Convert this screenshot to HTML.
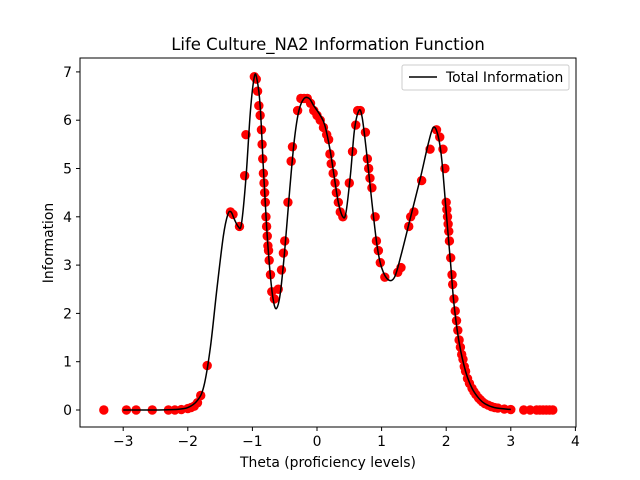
<!DOCTYPE html>
<html><head><meta charset="utf-8"><style>
body{margin:0;background:#fff}
svg{display:block;font-family:"DejaVu Sans","Liberation Sans",sans-serif}
</style></head><body>
<svg id="c" width="640" height="480">
<rect width="640" height="480" fill="#fff"/>
<text x="328" y="50" font-size="16.5" text-anchor="middle">Life Culture_NA2 Information Function</text>
<g id="marks"></g>
<rect x="80" y="58" width="496" height="369" fill="none" stroke="#000" stroke-width="1"/>
<g id="axes"></g>
<text x="328" y="467" font-size="13.9" text-anchor="middle">Theta (proficiency levels)</text>
<text x="0" y="0" font-size="13.9" text-anchor="middle" transform="translate(53,243) rotate(-90)">Information</text>
<g>
<rect x="402" y="65" width="167" height="25" fill="#fff" stroke="#ccc" rx="2"/>
<line x1="409" y1="77" x2="437" y2="77" stroke="#000" stroke-width="1.5"/>
<text x="446" y="82" font-size="13.9">Total Information</text>
</g>
</svg>
<script>
const curveTheta=[-3,-2.5,-2.2,-2,-1.85,-1.75,-1.65,-1.55,-1.45,-1.38,-1.33,-1.28,-1.22,-1.17,-1.1,-1.03,-0.97,-0.93,-0.88,-0.83,-0.78,-0.73,-0.68,-0.63,-0.57,-0.5,-0.42,-0.35,-0.28,-0.2,-0.12,-0.05,0.05,0.12,0.2,0.27,0.33,0.4,0.45,0.52,0.58,0.65,0.7,0.77,0.85,0.93,1.0,1.1,1.2,1.3,1.45,1.6,1.72,1.8,1.87,1.93,2.0,2.07,2.12,2.2,2.3,2.4,2.5,2.6,2.75,3];
const curveInfo=[0,0,0.01,0.05,0.2,0.5,1.3,2.5,3.6,4.05,4.1,3.95,3.8,3.85,4.8,6.2,6.9,6.85,6.3,5.0,3.8,2.9,2.3,2.1,2.4,3.3,4.6,5.6,6.2,6.45,6.45,6.3,6.1,5.9,5.4,4.8,4.3,4.0,4.1,4.9,5.8,6.2,6.05,5.3,4.3,3.4,2.95,2.7,2.75,3.2,4.0,4.8,5.5,5.85,5.7,5.2,4.1,3.0,2.2,1.4,0.8,0.45,0.25,0.13,0.05,0.01];
const ptTheta=[-3.3,-2.95,-2.8,-2.55,-2.3,-2.2,-2.1,-2.0,-1.95,-1.9,-1.85,-1.8,-1.7,-1.34,-1.3,-1.2,-1.12,-1.1,-0.97,-0.94,-0.92,-0.9,-0.88,-0.86,-0.85,-0.84,-0.83,-0.82,-0.81,-0.8,-0.79,-0.78,-0.77,-0.76,-0.75,-0.74,-0.72,-0.7,-0.66,-0.6,-0.55,-0.52,-0.5,-0.45,-0.4,-0.38,-0.3,-0.25,-0.2,-0.15,-0.1,-0.05,0.0,0.05,0.1,0.15,0.18,0.2,0.22,0.25,0.28,0.3,0.33,0.36,0.4,0.5,0.55,0.6,0.63,0.67,0.75,0.78,0.8,0.82,0.85,0.9,0.92,0.95,0.98,1.05,1.25,1.3,1.42,1.45,1.5,1.62,1.75,1.85,1.9,1.95,1.98,2.0,2.01,2.02,2.03,2.04,2.05,2.07,2.09,2.1,2.12,2.14,2.16,2.18,2.2,2.22,2.24,2.26,2.28,2.3,2.33,2.36,2.4,2.43,2.46,2.5,2.53,2.56,2.6,2.65,2.7,2.75,2.8,2.9,3.0,3.2,3.3,3.4,3.45,3.5,3.55,3.6,3.65];
const ptInfo=[0,0,0,0,0,0,0.01,0.03,0.05,0.08,0.15,0.3,0.92,4.1,4.05,3.8,4.85,5.7,6.9,6.85,6.6,6.3,6.1,5.8,5.5,5.2,4.9,4.7,4.5,4.3,4.0,3.8,3.6,3.4,3.3,3.1,2.8,2.45,2.3,2.5,2.9,3.25,3.5,4.3,5.15,5.45,6.2,6.45,6.45,6.45,6.35,6.2,6.1,6.0,5.85,5.7,5.6,5.3,5.1,4.9,4.7,4.5,4.3,4.1,4.0,4.7,5.35,5.9,6.2,6.2,5.75,5.2,5.0,4.8,4.6,4.0,3.5,3.3,3.05,2.75,2.85,2.95,3.8,4.0,4.1,4.75,5.4,5.8,5.65,5.4,5.0,4.3,4.15,4.0,3.85,3.7,3.5,3.15,2.8,2.6,2.3,2.05,1.85,1.65,1.45,1.3,1.15,1.05,0.9,0.8,0.65,0.55,0.45,0.38,0.32,0.25,0.21,0.17,0.13,0.1,0.07,0.05,0.04,0.02,0.01,0,0,0,0,0,0,0,0];
const xs=t=>317+t*64.6, ys=v=>410-v*48.3;
const NS='http://www.w3.org/2000/svg';
const marks=document.getElementById('marks'), axes=document.getElementById('axes');
for(let i=0;i<ptTheta.length;i++){
  const c=document.createElementNS(NS,'circle');
  c.setAttribute('cx',xs(ptTheta[i]));c.setAttribute('cy',ys(ptInfo[i]));c.setAttribute('r',4.7);c.setAttribute('fill','#ff0000');
  
  
  marks.appendChild(c);
}
let d='M'+xs(curveTheta[0])+','+ys(curveInfo[0]);
const P=curveTheta.map((t,i)=>[xs(t),ys(curveInfo[i])]);
for(let i=0;i<P.length-1;i++){
  const p0=P[Math.max(0,i-1)],p1=P[i],p2=P[i+1],p3=P[Math.min(P.length-1,i+2)];
  const c1=[p1[0]+(p2[0]-p0[0])/6,p1[1]+(p2[1]-p0[1])/6],c2=[p2[0]-(p3[0]-p1[0])/6,p2[1]-(p3[1]-p1[1])/6];
  d+=`C${c1[0]},${c1[1]} ${c2[0]},${c2[1]} ${p2[0]},${p2[1]}`;
}
const path=document.createElementNS(NS,'path');
path.setAttribute('d',d);path.setAttribute('fill','none');path.setAttribute('stroke','#000');path.setAttribute('stroke-width','1.5');


marks.appendChild(path);
const xTicks=[-3,-2,-1,0,1,2,3,4], yTicks=[0,1,2,3,4,5,6,7];
xTicks.forEach(t=>{
  const l=document.createElementNS(NS,'line');l.setAttribute('x1',xs(t));l.setAttribute('x2',xs(t));l.setAttribute('y1',427);l.setAttribute('y2',431);l.setAttribute('stroke','#000');
  
  
  axes.appendChild(l);
  const tx=document.createElementNS(NS,'text');tx.setAttribute('x',xs(t));tx.setAttribute('y',446);tx.setAttribute('font-size','13.9');tx.setAttribute('text-anchor','middle');tx.textContent=(t<0?'\u2212'+(-t):t);
  
  
  axes.appendChild(tx);
});
yTicks.forEach(v=>{
  const l=document.createElementNS(NS,'line');l.setAttribute('x1',76);l.setAttribute('x2',80);l.setAttribute('y1',ys(v));l.setAttribute('y2',ys(v));l.setAttribute('stroke','#000');
  
  
  axes.appendChild(l);
  const tx=document.createElementNS(NS,'text');tx.setAttribute('x',72);tx.setAttribute('y',ys(v)+5);tx.setAttribute('font-size','13.9');tx.setAttribute('text-anchor','end');tx.textContent=v;
  
  
  axes.appendChild(tx);
});
</script>
</body></html>
